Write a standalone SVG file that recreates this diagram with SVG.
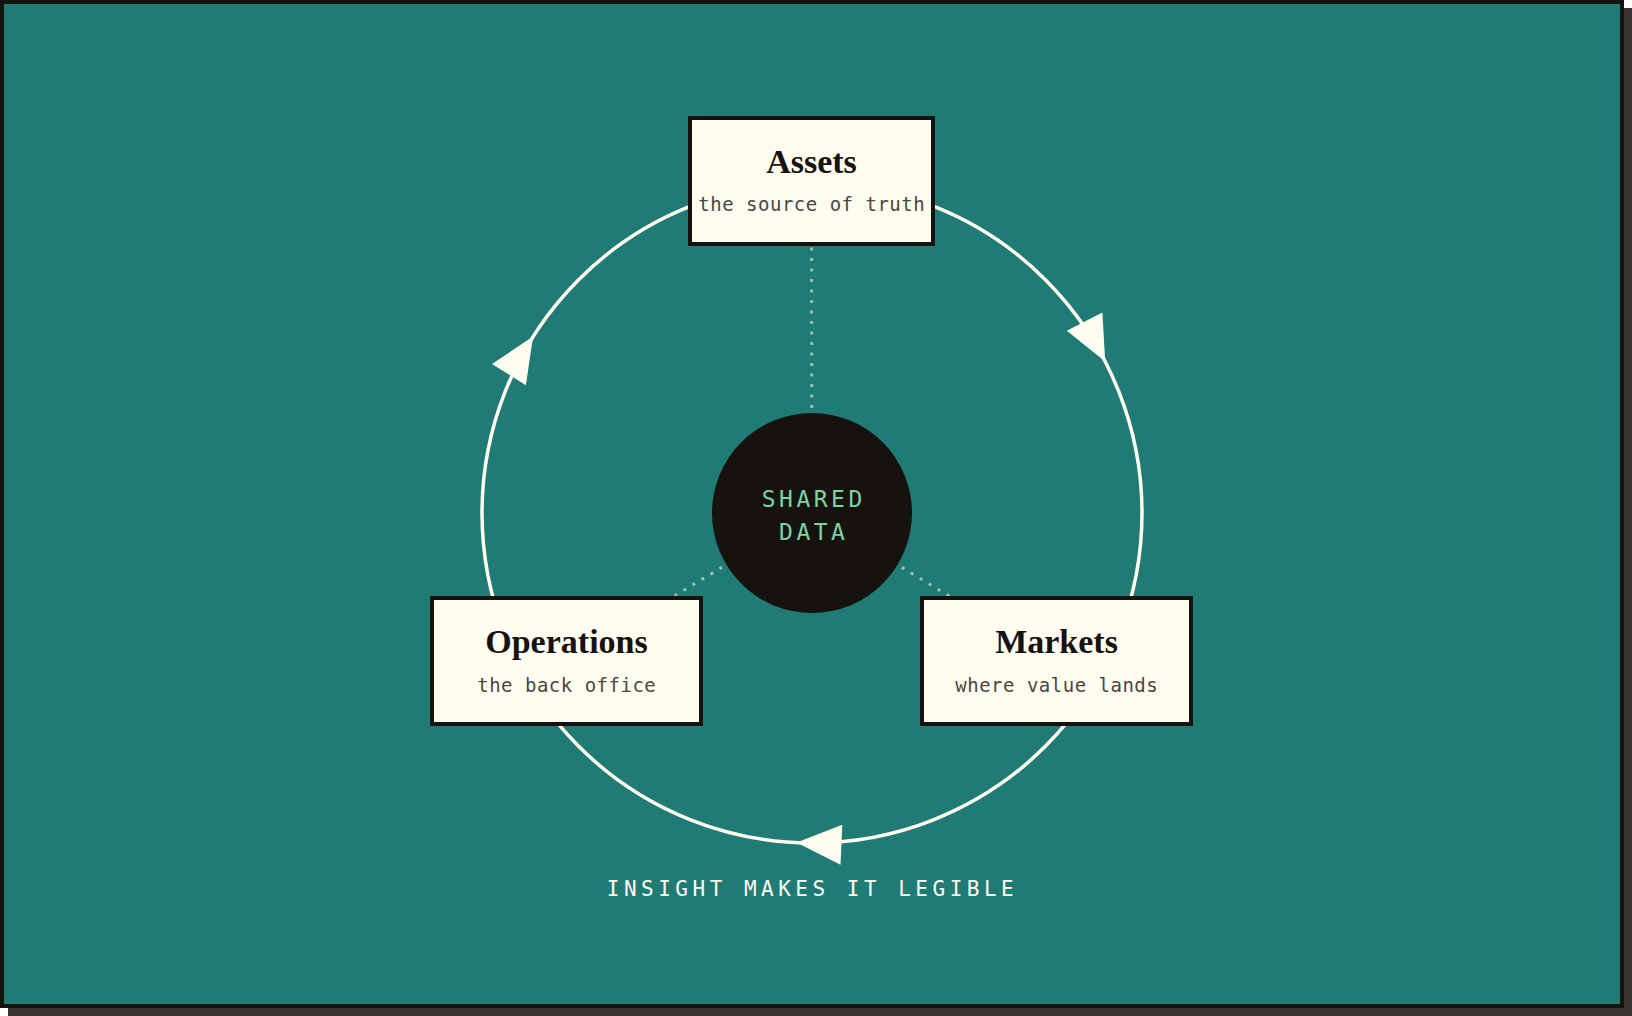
<svg xmlns="http://www.w3.org/2000/svg" width="1632" height="1016" viewBox="0 0 1632 1016">
  <style>
    .box { fill: #fffdf0; stroke: #16120e; stroke-width: 4; }
    .title { font-family: "Liberation Serif", "Times New Roman", serif; font-weight: bold; font-size: 34px; fill: #16120e; text-anchor: middle; }
    .sub { font-family: "DejaVu Sans Mono", "Liberation Mono", monospace; font-size: 19px; letter-spacing: 0.5px; fill: #4a4641; text-anchor: middle; }
    .ring { fill: none; stroke: #fffdf0; stroke-width: 3.5; }
    .arrow { fill: #fffdf0; }
    .spoke { stroke: #9ac2b8; stroke-width: 3; stroke-dasharray: 3 7.5; fill: none; }
    .hub { font-family: "DejaVu Sans Mono", "Liberation Mono", monospace; font-size: 23px; letter-spacing: 3.5px; fill: #7dd3a3; text-anchor: middle; }
    .caption { font-family: "DejaVu Sans Mono", "Liberation Mono", monospace; font-size: 21px; letter-spacing: 4.5px; fill: #fffdf0; text-anchor: middle; }
  </style>

  <!-- frame -->
  <rect x="8" y="8" width="1624" height="1008" fill="#3a3631"/>
  <rect x="2" y="2" width="1620" height="1004" fill="#1f7b74" stroke="#16120e" stroke-width="4"/>

  <g id="connectors">
    <line class="spoke" x1="812" y1="513" x2="811.5" y2="181"/>
    <line class="spoke" x1="812" y1="513" x2="566.5" y2="661"/>
    <line class="spoke" x1="812" y1="513" x2="1056.5" y2="661"/>
    <circle class="ring" cx="812" cy="513" r="330"/>
    <polygon class="arrow" points="1105.2,361.6 1102.4,312.4 1066.8,330.8"/>
    <polygon class="arrow" points="796.5,842.6 840.5,864.7 842.3,824.7"/>
    <polygon class="arrow" points="533,336.6 492,363.9 525.9,385.3"/>
  </g>

  <g id="hub">
    <circle cx="812" cy="513" r="100" fill="#16120e"/>
    <text class="hub" x="813.75" y="507">SHARED</text>
    <text class="hub" x="813.75" y="540">DATA</text>
  </g>

  <g id="assets">
    <rect class="box" x="690" y="118" width="243" height="126"/>
    <text class="title" x="811.5" y="173">Assets</text>
    <text class="sub" x="811.75" y="211">the source of truth</text>
  </g>

  <g id="operations">
    <rect class="box" x="432" y="598" width="269" height="126"/>
    <text class="title" x="566.5" y="653">Operations</text>
    <text class="sub" x="566.75" y="692">the back office</text>
  </g>

  <g id="markets">
    <rect class="box" x="922" y="598" width="269" height="126"/>
    <text class="title" x="1056.5" y="653">Markets</text>
    <text class="sub" x="1056.75" y="692">where value lands</text>
  </g>

  <g id="caption">
    <text class="caption" x="812.5" y="896">INSIGHT MAKES IT LEGIBLE</text>
  </g>
</svg>
